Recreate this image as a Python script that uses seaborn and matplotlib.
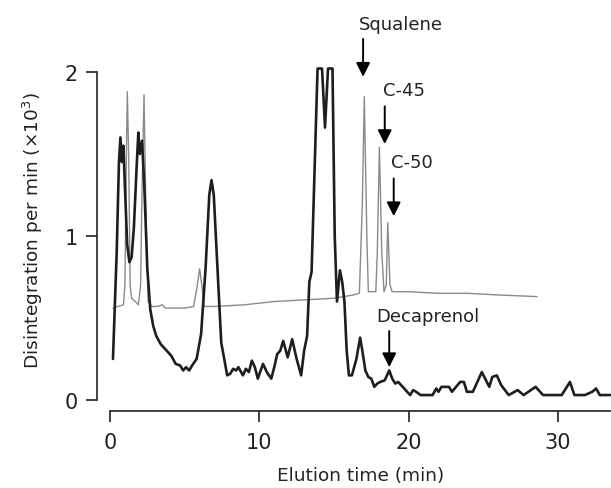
import matplotlib
matplotlib.use("Agg")
import matplotlib.pyplot as plt
import seaborn as sns
import pandas as pd

# black trace (sample), time in min, dpm x10^3
black_t = [0.2, 0.45, 0.6, 0.7, 0.8, 0.9, 1.0, 1.15, 1.3, 1.45, 1.6, 1.8, 1.9, 2.0, 2.15, 2.3,
           2.5, 2.7, 2.9, 3.1, 3.4, 3.8, 4.1, 4.4, 4.7, 4.9, 5.1, 5.3, 5.5, 5.8, 6.1, 6.4,
           6.65, 6.8, 6.95, 7.2, 7.45, 7.85, 8.05, 8.25, 8.45, 8.6, 8.9, 9.1, 9.3, 9.5, 9.7,
           9.9, 10.05, 10.25, 10.5, 10.8, 11.0, 11.2, 11.4, 11.6, 11.9, 12.2, 12.5, 12.8,
           13.0, 13.2, 13.35, 13.5, 13.7, 13.9, 14.2, 14.4, 14.6, 14.9, 15.05, 15.2, 15.4,
           15.55, 15.7, 15.85, 16.0, 16.2, 16.5, 16.75, 16.9, 17.1, 17.3, 17.5, 17.7, 17.9,
           18.1, 18.4, 18.7, 18.9, 19.1, 19.3, 19.6, 20.1, 20.3, 20.5, 20.8, 21.2, 21.6,
           21.85, 22.0, 22.2, 22.7, 22.9, 23.45, 23.7, 23.9, 24.3, 24.9, 25.4, 25.6, 25.9,
           26.2, 26.7, 27.3, 27.7, 28.5, 29.0, 30.25, 30.8, 31.1, 31.8, 32.3, 32.55, 32.8, 33.5]
black_v = [0.25, 0.9, 1.45, 1.6, 1.45, 1.55, 1.3, 0.95, 0.84, 0.87, 1.05, 1.45, 1.63, 1.5, 1.58, 1.3,
           0.8, 0.55, 0.45, 0.39, 0.34, 0.30, 0.27, 0.22, 0.21, 0.18, 0.2, 0.18, 0.21, 0.25, 0.4, 0.8,
           1.25, 1.34, 1.25, 0.8, 0.35, 0.15, 0.16, 0.19, 0.18, 0.2, 0.15, 0.19, 0.17, 0.24, 0.2,
           0.13, 0.17, 0.22, 0.17, 0.13, 0.2, 0.28, 0.3, 0.36, 0.26, 0.37, 0.25, 0.15,
           0.3, 0.39, 0.72, 0.78, 1.4, 2.02, 2.02, 1.66, 2.02, 2.02, 1.0, 0.6, 0.79,
           0.72, 0.6, 0.3, 0.15, 0.15, 0.25, 0.38, 0.3, 0.18, 0.14, 0.13, 0.08, 0.1,
           0.11, 0.12, 0.18, 0.13, 0.10, 0.11, 0.08, 0.03, 0.06, 0.05, 0.03, 0.03, 0.03,
           0.07, 0.05, 0.08, 0.08, 0.05, 0.11, 0.11, 0.05, 0.05, 0.17, 0.08, 0.14, 0.15,
           0.09, 0.03, 0.06, 0.03, 0.08, 0.03, 0.03, 0.11, 0.03, 0.03, 0.05, 0.07, 0.03, 0.03]

# grey trace (standards)
grey_t = [0.2, 0.9, 1.0, 1.1, 1.16, 1.25, 1.35, 1.45, 1.7, 1.9, 2.05, 2.15, 2.28, 2.4, 2.55,
          2.8, 3.2, 3.5, 3.7, 5.0, 5.6, 5.85, 6.0, 6.15, 6.3, 7.0, 9.0, 11.0, 13.0, 15.0,
          16.3, 16.7, 16.9, 17.03, 17.2, 17.3, 17.8, 17.9, 18.04, 18.2, 18.35, 18.5, 18.6,
          18.75, 18.9, 20.0, 22.0, 24.0, 26.0, 28.6]
grey_v = [0.56, 0.58, 0.7, 1.5, 1.88, 1.5, 0.7, 0.62, 0.6, 0.58, 0.7, 1.3, 1.86, 1.2, 0.6,
          0.57, 0.57, 0.58, 0.56, 0.56, 0.57, 0.7, 0.8, 0.7, 0.57, 0.57, 0.58, 0.6, 0.61, 0.62,
          0.64, 0.65, 1.2, 1.85, 1.0, 0.66, 0.66, 0.9, 1.54, 0.9, 0.66, 0.7, 1.08,
          0.7, 0.66, 0.66, 0.65, 0.65, 0.64, 0.63]

# annotations: label, text x, text y, arrow x, arrow tail y, arrow head y
ann_labels = ["Squalene", "C-45", "C-50", "Decaprenol"]
ann_text_x = [16.7, 18.3, 18.85, 17.85]
ann_text_y = [2.29, 1.89, 1.45, 0.51]
ann_arrow_x = [16.95, 18.4, 19.0, 18.7]
ann_tail_y = [2.20, 1.79, 1.35, 0.42]
ann_head_y = [1.97, 1.56, 1.12, 0.20]

black_df = pd.DataFrame({"time": black_t, "dpm": black_v})
grey_df = pd.DataFrame({"time": grey_t, "dpm": grey_v})

sns.set_style("ticks")
plt.rcParams['font.family'] = ['DejaVu Sans']

fig = plt.figure(figsize=(6.11, 4.89), dpi=100)
ax = fig.add_axes([0.18, 0.18, 0.82, 0.812])

sns.lineplot(data=grey_df, x="time", y="dpm", ax=ax, color="#8a8a8a", lw=1.0, estimator=None)
sns.lineplot(data=black_df, x="time", y="dpm", ax=ax, color="#1e1e1e", lw=1.9, estimator=None)

for lab, tx, ty, axx, t0, t1 in zip(ann_labels, ann_text_x, ann_text_y, ann_arrow_x, ann_tail_y, ann_head_y):
    ax.annotate("", xy=(axx, t1), xytext=(axx, t0),
                arrowprops=dict(arrowstyle="-|>", color="black", lw=1.4, mutation_scale=21,
                                shrinkA=0, shrinkB=0))
    ax.text(tx, ty, lab, fontsize=13, ha="left", va="center", color="#222222")

ax.set_xlim(0, 33.55)
ax.set_ylim(0, 2.42)
ax.set_xticks([0, 10, 20, 30])
ax.set_yticks([0, 1, 2])

sns.despine(ax=ax, offset={"left": 9.4, "bottom": 7.9})
ax.spines["left"].set_bounds(0, 2)
ax.spines["bottom"].set_bounds(0, 33.55)
for s in ["left", "bottom"]:
    ax.spines[s].set_linewidth(1.2)
    ax.spines[s].set_color("#222222")

ax.tick_params(axis="both", length=8, width=1.2, color="#222222", labelsize=15, labelcolor="#222222")
ax.tick_params(axis="x", pad=7)
ax.tick_params(axis="y", pad=6)

ax.set_xlabel("Elution time (min)", fontsize=13.3, labelpad=10, color="#222222")
ax.set_ylabel("Disintegration per min (×10$^{3}$)", fontsize=13.3, labelpad=14, color="#222222")
ax.yaxis.label.set_y(0.43)

fig.savefig("out.png", dpi=100)
